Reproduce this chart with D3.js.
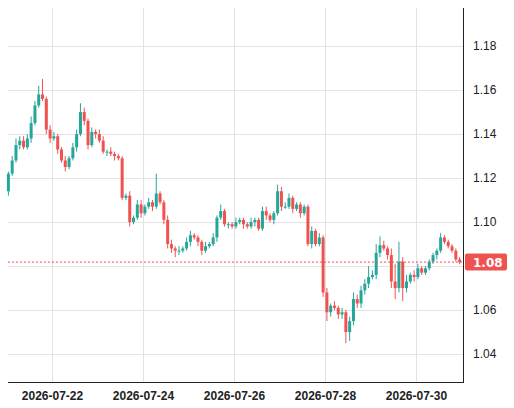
<!DOCTYPE html>
<html><head><meta charset="utf-8">
<script src="https://cdn.jsdelivr.net/npm/d3@7"></script>
<style>body{margin:0;background:#fff}svg{font-family:"DejaVu Sans",sans-serif}</style>
</head><body><svg id="chart" width="514" height="408"></svg>
<script>
// 2-hour candles
var firstOpen = 1.114;
var closes = [1.122,1.128,1.135,1.137,1.134,1.138,1.145,1.153,1.158,1.156,
  1.142,1.138,1.139,1.133,1.128,1.125,1.129,1.134,1.140,1.150,
  1.146,1.135,1.141,1.140,1.137,1.132,1.132,1.131,1.130,1.129,
  1.111,1.112,1.100,1.102,1.108,1.104,1.107,1.109,1.107,1.113,
  1.109,1.101,1.090,1.088,1.087,1.087,1.088,1.091,1.094,1.093,
  1.091,1.087,1.089,1.090,1.093,1.102,1.105,1.099,1.099,1.098,
  1.100,1.101,1.099,1.098,1.100,1.101,1.097,1.105,1.103,1.101,
  1.104,1.114,1.107,1.107,1.111,1.106,1.108,1.104,1.107,1.090,
  1.096,1.090,1.093,1.068,1.059,1.062,1.061,1.058,1.059,1.050,
  1.055,1.065,1.063,1.069,1.072,1.075,1.076,1.086,1.0895,1.088,
  1.085,1.073,1.070,1.082,1.070,1.073,1.076,1.075,1.079,1.077,
  1.079,1.082,1.085,1.087,1.093,1.091,1.089,1.087,1.083,1.0818];
// wick lengths beyond the body, in 0.001
var upWick = [1,2,3,2,2,2,3,2,4,7, 1,2,2,1,1,2,1,2,2,4, 2,1,2,1,2,2,1,2,1,1,
  1,1,2,1,2,2,1,2,1,9, 1,1,2,2,1,2,1,2,2,1, 1,1,2,1,2,1,3,1,1,1,
  2,1,1,1,2,1,1,2,2,1, 1,3,2,2,2,1,1,1,1,1, 2,1,2,1,2,1,2,1,2,1,
  2,3,2,2,2,5,2,4,4,2, 1,3,8,9,2,3,1,2,2,1, 1,1,1,1,2,1,1,1,1,1];
var loWick = [2,1,1,2,1,1,2,1,1,1, 2,2,1,2,1,2,1,1,2,1, 2,2,1,2,1,1,2,1,2,1,
  1,1,2,1,1,2,1,1,2,1, 1,2,2,2,3,2,1,1,2,1, 2,2,1,1,1,2,1,1,2,1,
  1,1,2,1,1,2,1,1,2,1, 2,1,2,1,1,2,1,2,1,1, 2,1,1,2,4,2,1,2,2,5,
  4,2,2,2,2,2,1,2,2,1, 2,3,5,2,6,2,1,2,1,1, 1,1,1,2,1,1,1,1,1,1];
var startTime = new Date(2026, 6, 21, 1);
var tickDates = ["2026-07-22","2026-07-24","2026-07-26","2026-07-28","2026-07-30"];
var priceTicks = [1.04,1.06,1.08,1.10,1.12,1.14,1.16,1.18];
var lastPrice = 1.0818;

var svg = d3.select("#chart");
var plotL = 8, plotR = 463, plotT = 8, plotB = 382;
var green = "#26a69a", red = "#ef5350";

var candles = closes.map(function(c, i) {
  var o = i === 0 ? firstOpen : closes[i - 1];
  return {t: d3.timeHour.offset(startTime, 2 * i), o: o, c: c,
    h: Math.max(o, c) + upWick[i] / 1000, l: Math.min(o, c) - loWick[i] / 1000};
});

var x = d3.scaleTime().domain([new Date(2026, 6, 21, 0), new Date(2026, 6, 31, 0)]).range([6.5, 461.5]);
var y = d3.scaleLinear().domain([1.0273, 1.1973]).range([plotB, plotT]);
var parse = d3.timeParse("%Y-%m-%d");

var grid = svg.append("g").attr("stroke", "#e3e3e3").attr("stroke-width", 1);
priceTicks.forEach(function(p) {
  grid.append("line").attr("x1", plotL).attr("x2", plotR)
    .attr("y1", Math.round(y(p)) + 0.5).attr("y2", Math.round(y(p)) + 0.5);
});
tickDates.forEach(function(d) {
  var px = Math.round(x(parse(d))) + 0.5;
  grid.append("line").attr("x1", px).attr("x2", px).attr("y1", plotT).attr("y2", plotB);
});

var g = svg.append("g");
g.selectAll("line.wick").data(candles).enter().append("line")
  .attr("x1", function(d) { return x(d.t); }).attr("x2", function(d) { return x(d.t); })
  .attr("y1", function(d) { return y(d.h); }).attr("y2", function(d) { return y(d.l); })
  .attr("stroke", function(d) { return d.c >= d.o ? green : red; }).attr("stroke-width", 1);
g.selectAll("rect").data(candles).enter().append("rect")
  .attr("x", function(d) { return x(d.t) - 1.5; }).attr("width", 3)
  .attr("y", function(d) { return y(Math.max(d.o, d.c)); })
  .attr("height", function(d) { return Math.max(1, Math.abs(y(d.o) - y(d.c))); })
  .attr("fill", function(d) { return d.c >= d.o ? green : red; });

svg.append("line").attr("x1", plotL).attr("x2", plotR)
  .attr("y1", y(lastPrice)).attr("y2", y(lastPrice))
  .attr("stroke", red).attr("stroke-dasharray", "2,2").attr("stroke-width", 1);

var yAxis = d3.axisRight(y).tickValues(priceTicks).tickSize(0).tickPadding(10)
  .tickFormat(d3.format(".2f"));
svg.append("g").attr("transform", "translate(" + plotR + ",0)").call(yAxis)
  .call(function(a) {
    a.select(".domain").attr("stroke", "#222").attr("d", "M0.5," + plotT + "V" + plotB);
    a.selectAll("text").attr("font-size", 12).attr("fill", "#222");
  });

var xAxis = d3.axisBottom(x).tickValues(tickDates.map(parse)).tickSize(0).tickPadding(9)
  .tickFormat(d3.timeFormat("%Y-%m-%d"));
svg.append("g").attr("transform", "translate(0," + plotB + ")").call(xAxis)
  .call(function(a) {
    a.select(".domain").attr("stroke", "#222").attr("d", "M" + plotL + ",0.5H" + (plotR + 1));
    a.selectAll("text").attr("font-size", 12).attr("font-weight", "bold").attr("fill", "#222");
  });

var ly = y(lastPrice);
svg.append("rect").attr("x", plotR + 2).attr("y", ly - 8.5).attr("width", 42).attr("height", 17)
  .attr("rx", 2).attr("fill", red);
svg.append("text").attr("x", plotR + 10).attr("y", ly + 4.5).attr("fill", "#fff")
  .attr("font-size", 12).attr("font-weight", "bold").text(d3.format(".2f")(lastPrice));
</script></body></html>
